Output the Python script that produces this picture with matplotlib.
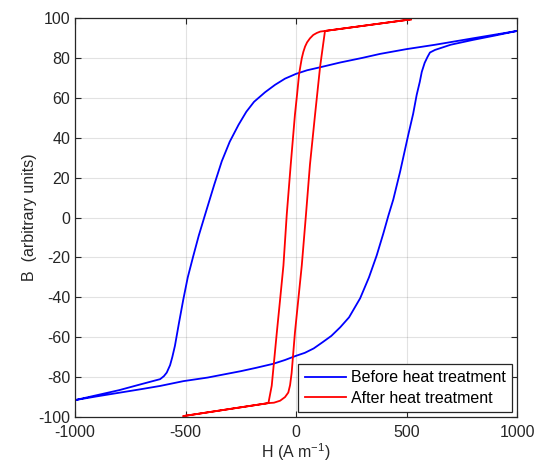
import numpy as np
import matplotlib
matplotlib.use("Agg")
import matplotlib.pyplot as plt

# Before heat treatment: descending branch then ascending branch (H in A/m, B arb. units)
blue_desc_h = [1000, 800, 630, 500, 380, 300, 200, 109, 50, 0, -50, -95, -140, -190, -225, -260,
               -300, -336, -370, -410, -440, -465, -490, -510, -530, -548, -560, -570, -585, -598,
               -615, -700, -800, -900, -1000]
blue_desc_b = [93.5, 89.8, 86.6, 84.4, 82.0, 80.0, 77.7, 75.3, 73.8, 72.0, 69.6, 66.5, 62.8, 58.0,
               53.0, 46.5, 38.0, 28.2, 16.5, 2.0, -9.0, -19.3, -30.0, -41.0, -53.0, -64.3, -70.0,
               -74.0, -77.7, -79.5, -81.0, -83.5, -86.5, -89.0, -91.5]
blue_asc_h = [-1000, -900, -800, -700, -615, -510, -400, -344, -250, -180, -103, -50, 0, 40, 80,
              120, 160, 200, 240, 290, 330, 365, 395, 418, 440, 471, 508, 530, 546, 560, 569,
              582, 595, 606, 629, 700, 800, 900, 1000]
blue_asc_b = [-91.5, -89.6, -87.8, -86.0, -84.4, -82.0, -80.2, -79.0, -77.0, -75.3, -73.3, -71.4,
              -69.3, -67.8, -65.6, -62.5, -59.3, -55.0, -50.0, -40.5, -30.0, -19.0, -8.0,
              1.0, 9.0, 23.0, 41.5, 52.0, 61.5, 68.0, 73.0, 77.5, 80.5, 82.7, 84.0, 86.6, 89.0,
              91.2, 93.5]

# After heat treatment
red_desc_h = [520, 131, 110, 94, 78, 63, 50, 41, 33, 26, 20, 14, 5, -5, -24, -42, -57, -72, -87,
              -110, -125, -510]
red_desc_b = [99.3, 93.5, 93.2, 92.5, 91.5, 89.8, 87.8, 85.7, 83.0, 79.8, 76.0, 72.0, 62.0, 51.5,
              26.5, 1.5, -24.0, -41.0, -57.7, -84.3, -93.0, -99.5]
red_asc_h = [-510, -125, -100, -72, -50, -35, -27, -20, -5, 26, 45, 63, 86, 109, 131, 520]
red_asc_b = [-99.5, -93.0, -92.8, -91.8, -90.0, -87.7, -84.0, -78.0, -57.7, -24.0, 1.5, 26.5,
             51.5, 75.7, 93.5, 99.3]

x_ticks = [-1000, -500, 0, 500, 1000]
y_ticks = list(range(-100, 101, 20))

plt.rcParams['font.family'] = ['Liberation Sans', 'DejaVu Sans']
plt.rcParams['mathtext.default'] = 'regular'
plt.rcParams['axes.unicode_minus'] = False

fig = plt.figure(figsize=(5.36, 4.66), dpi=100)
ax = fig.add_axes([0.140, 0.105, 0.8246, 0.8564])

ax.plot(blue_desc_h + blue_asc_h, blue_desc_b + blue_asc_b, color=(0, 0, 1), lw=1.3,
        solid_joinstyle="round", label="Before heat treatment")
ax.plot(red_desc_h + red_asc_h, red_desc_b + red_asc_b, color=(1, 0, 0), lw=1.3,
        solid_joinstyle="round", label="After heat treatment")

ax.set_xlim(-1000, 1000)
ax.set_ylim(-100, 100)
ax.set_xticks(x_ticks)
ax.set_yticks(y_ticks)
ax.grid(True, color="#262626", alpha=0.13, lw=0.8)
ax.set_axisbelow(True)

dark = "#262626"
for s in ax.spines.values():
    s.set_color(dark)
    s.set_linewidth(0.9)
ax.tick_params(direction="in", top=True, right=True, length=4, width=0.8, colors=dark,
               labelsize=11.5, labelcolor=dark)
ax.tick_params(axis="x", pad=6)
ax.set_xlabel("H (A m$^{-1}$)", fontsize=11.5, color=dark, labelpad=1)
ax.set_ylabel("B  (arbitrary units)", fontsize=11.5, color=dark, labelpad=1)

leg = ax.legend(loc="lower right", fontsize=11.5, fancybox=False, framealpha=1,
                edgecolor=dark, borderaxespad=0.3, handlelength=2.6, handletextpad=0.3,
                borderpad=0.4, labelspacing=0.35)
leg.get_frame().set_linewidth(0.9)

fig.savefig("out.png", dpi=100)
